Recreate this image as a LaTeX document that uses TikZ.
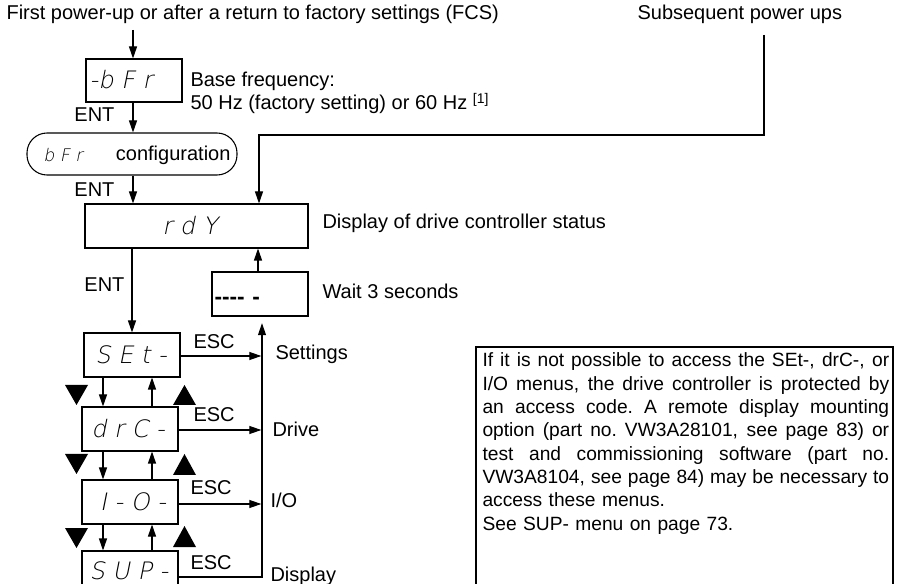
\documentclass[tikz,border=0pt]{standalone}
\usepackage{fontspec}
\setmainfont{Liberation Sans}
\newfontfamily\segfont[FakeSlant=0.2]{DejaVu Sans ExtraLight}
\usetikzlibrary{arrows.meta}
\newcommand\noteline[1]{\leavevmode\hbox to 305pt{\spaceskip=0.278em plus 1em minus 0.1em\xspaceskip=\spaceskip #1}}
\begin{document}
\begin{tikzpicture}[x=0.75pt,y=-0.75pt,
  font=\fontsize{15pt}{18pt}\selectfont,
  every node/.style={inner sep=0pt},
  line width=0.8pt,
  arr/.style={-{Triangle[width=6pt,length=9pt]}},
  dbox/.style={draw,line width=0.8pt,minimum width=72pt,minimum height=33pt},
  seg/.style={font=\segfont\fontsize{18pt}{18pt}\selectfont},
  segs/.style={font=\segfont\fontsize{13pt}{13pt}\selectfont},
  lbl/.style={anchor=base west},
  lbe/.style={anchor=base east}
]
\clip (0,0) rectangle (900,584);
% titles
\node[lbl] (title) at (6,20) {First power-up or after a return to factory settings (FCS)};
\node[lbl] (subt) at (637,20) {Subsequent power ups};
\coordinate (start) at (133,30);
\coordinate (sub) at (764,35);
% boxes
\node[dbox,minimum height=32.25pt] (bfr) at (134,80.5) {};
\node[seg] (bfrt) at (121,80) {-b F r};
\node[lbl] (bf1) at (190,87) {Base frequency:};
\node[lbl] (bf2) at (190,110) {50 Hz (factory setting) or 60 Hz \textsuperscript{[1]}};
\node[lbe] (ent1) at (115,122) {ENT};
\node[draw,line width=0.8pt,rounded corners=15pt,minimum width=157.5pt,minimum height=31.5pt] (cfg) at (132,154) {};
\node[segs] (cfgt) at (63,155) {b F r};
\node[lbe] (cfgl) at (231,161) {configuration};
\node[lbe] (ent2) at (115,197) {ENT};
\node[dbox,minimum width=167.25pt] (rdy) at (196.5,226) {};
\node[seg] (rdyt) at (190,226) {r d Y};
\node[lbl] (rdyl) at (322,229) {Display of drive controller status};
\node[dbox] (wait) at (260,294) {};
\node[anchor=west,font=\fontsize{17pt}{17pt}\selectfont\bfseries] (waitt) at (214,301) {{-}{-}{-}{-}\,\,{-}};
\node[lbl] (waitl) at (322,299) {Wait 3 seconds};
\node[lbe] (ent3) at (125,292) {ENT};
% menus
\node[dbox] (set) at (132,355) {};
\node[seg] (sett) at (131,355) {S E t -};
\node[dbox] (drc) at (130,429) {};
\node[seg] (drct) at (128,429) {d r C -};
\node[dbox] (io) at (130,502) {};
\node[seg] (iot) at (133,502) {I - O -};
\node[dbox,minimum height=39pt] (sup) at (130,577) {};
\node[seg] (supt) at (129,571) {S U P -};
% ESC labels
\node[lbl] (esc1) at (193,349) {ESC};
\node[lbl] (esc2) at (193,422) {ESC};
\node[lbl] (esc3) at (190,495) {ESC};
\node[lbl] (esc4) at (190,570) {ESC};
\node[lbl] (l1) at (275,360) {Settings};
\node[lbl] (l2) at (272,437) {Drive};
\node[lbl] (l3) at (270,508) {I/O};
\node[lbl] (l4) at (270,581) {Display};
% note
\node[draw,line width=0.8pt,minimum width=312.75pt,minimum height=219pt] (note) at (684.5,493) {};
\node[anchor=north west,text width=305pt,align=left,
  font=\fontsize{14.4pt}{17.5pt}\selectfont] (notet) at (482,352.5)
 {\noteline{If it is not possible to access the SEt-, drC-, or}\\
  \noteline{I/O menus, the drive controller is protected by}\\
  \noteline{an access code. A remote display mounting}\\
  \noteline{option (part no. VW3A28101, see page 83) or}\\
  \noteline{test and commissioning software (part no.}\\
  \noteline{VW3A8104, see page 84) may be necessary to}\\
  access these menus.\\
  See SUP- menu on page 73.};
% helper coordinates
\coordinate (turn) at (259,135);
\coordinate (dx) at (103,0);
\coordinate (ux) at (152,0);
\coordinate (ax) at (258,0);
\coordinate (ret) at (262,0);
% connectors
\draw[arr] (start) -- (start |- bfr.north);
\draw[arr] (bfr.south -| start) -- (cfg.north -| start);
\draw[arr] (cfg.south -| start) -- (rdy.north -| start);
\draw[arr] (sub) |- (turn) -- (turn |- rdy.north);
\draw[arr] (wait.north -| ax) -- (rdy.south -| ax);
\draw[arr] (rdy.south -| set.north) -- (set.north);
\foreach \a/\b in {set/drc,drc/io,io/sup}{
  \draw[arr] (\a.south -| dx) -- (\b.north -| dx);
  \draw[arr] (\b.north -| ux) -- (\a.south -| ux);
}
\draw[arr,shorten >=0.5pt] ([yshift=-0.75pt]set.east) -- ([yshift=-0.75pt]set.east -| ret);
\draw[arr,shorten >=0.5pt] ([yshift=-0.75pt]drc.east) -- ([yshift=-0.75pt]drc.east -| ret);
\draw[arr,shorten >=0.5pt] ([yshift=-1.5pt]io.east) -- ([yshift=-1.5pt]io.east -| ret);
\draw[arr,shorten >=5pt] (sup.east) -| (wait.south -| ret);
% key triangles
\fill (65,385) -- (88,385) -- (76.5,405) -- cycle;
\fill (65,454) -- (88,454) -- (76.5,474) -- cycle;
\fill (65,528) -- (88,528) -- (76.5,548) -- cycle;
\fill (173,405) -- (196,405) -- (184.5,385) -- cycle;
\fill (173,475) -- (196,475) -- (184.5,454) -- cycle;
\fill (173,547) -- (196,547) -- (184.5,526) -- cycle;
\end{tikzpicture}
\end{document}
